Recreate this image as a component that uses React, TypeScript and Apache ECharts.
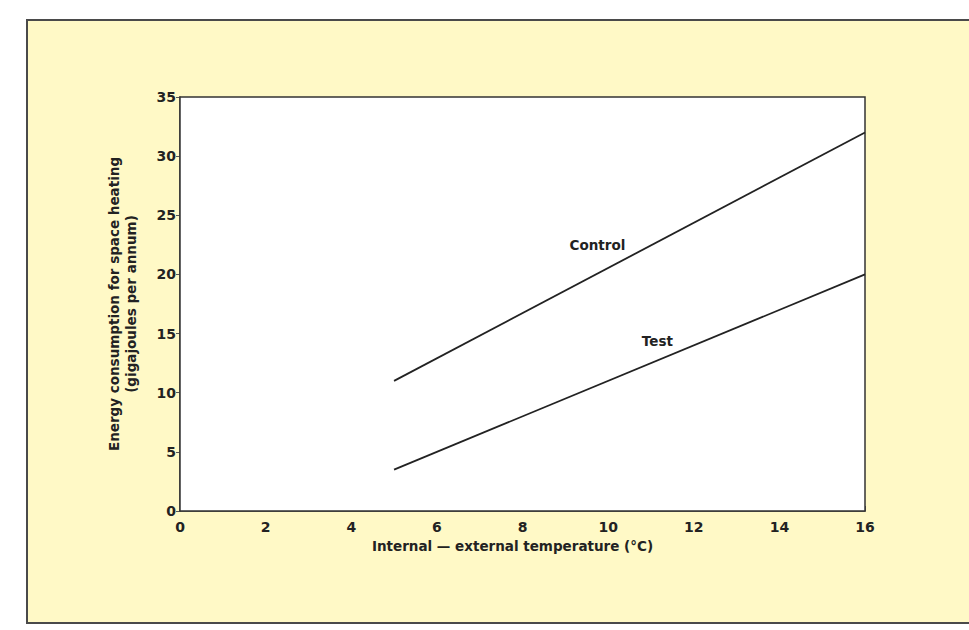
import React, { useEffect, useRef } from "react";
import * as echarts from "echarts";

const xTicks = [0, 2, 4, 6, 8, 10, 12, 14, 16];
const yTicks = [0, 5, 10, 15, 20, 25, 30, 35];
const controlData: [number, number][] = [[5, 11], [16, 32]];
const testData: [number, number][] = [[5, 3.5], [16, 20]];
const controlLabelAt: [number, number] = [9.75, 22.5];
const testLabelAt: [number, number] = [11.15, 14.4];
const xTitle = "Internal \u2014 external temperature (\u00B0C)";
const yTitle = "Energy consumption for space heating\n(gigajoules per annum)";

const FONT = "'DejaVu Sans', 'Liberation Sans', Arial, sans-serif";

export default function App() {
  const ref = useRef<HTMLDivElement>(null);
  useEffect(() => {
    if (!ref.current) return;
    const chart = echarts.init(ref.current, null, { renderer: "svg" });
    const lineStyle = { color: "#222", width: 1.8 };
    const mkLabel = (name: string, at: [number, number]) => ({
      symbol: "circle",
      symbolSize: 0,
      data: [
        {
          coord: at,
          label: {
            show: true,
            formatter: name,
            color: "#222",
            fontFamily: FONT,
            fontSize: 13.5,
            fontWeight: "bold",
          },
        },
      ],
    });
    chart.setOption({
      animation: false,
      backgroundColor: "#ffffff",
      textStyle: { fontFamily: FONT },
      graphic: [
        {
          type: "rect",
          z: -100,
          silent: true,
          shape: { x: 27, y: 20, width: 960, height: 603 },
          style: { fill: "#fff9c6", stroke: "#4a4a4a", lineWidth: 2 },
        },
      ],
      grid: {
        left: 180,
        top: 97,
        right: 104,
        bottom: 119,
        show: true,
        backgroundColor: "#ffffff",
        borderColor: "#333",
        borderWidth: 1.5,
        z: 1,
      },
      xAxis: {
        type: "value",
        min: xTicks[0],
        max: xTicks[xTicks.length - 1],
        interval: 2,
        name: xTitle,
        nameLocation: "middle",
        nameGap: 26,
        nameTextStyle: {
          color: "#222",
          fontSize: 13.5,
          fontFamily: FONT,
          fontWeight: "bold",
          padding: [0, 20, 0, 0],
        },
        axisLine: { show: true, lineStyle: { color: "#333", width: 1.5 } },
        axisTick: { show: true, inside: true, length: 5, lineStyle: { color: "#555" } },
        axisLabel: { color: "#222", fontSize: 14, fontFamily: FONT, fontWeight: "bold", margin: 9 },
        splitLine: { show: false },
      },
      yAxis: {
        type: "value",
        min: yTicks[0],
        max: yTicks[yTicks.length - 1],
        interval: 5,
        name: yTitle,
        nameLocation: "middle",
        nameGap: 41,
        nameRotate: 90,
        nameTextStyle: { color: "#222", fontSize: 13.5, fontFamily: FONT, fontWeight: "bold", lineHeight: 17 },
        axisLine: { show: true, lineStyle: { color: "#333", width: 1.5 } },
        axisTick: { show: true, inside: false, length: 4, lineStyle: { color: "#555" } },
        axisLabel: { color: "#222", fontSize: 14, fontFamily: FONT, fontWeight: "bold", margin: 4 },
        splitLine: { show: false },
      },
      series: [
        {
          type: "line",
          name: "Control",
          data: controlData,
          showSymbol: false,
          lineStyle,
          itemStyle: { color: "#222" },
          markPoint: mkLabel("Control", controlLabelAt),
        },
        {
          type: "line",
          name: "Test",
          data: testData,
          showSymbol: false,
          lineStyle,
          itemStyle: { color: "#222" },
          markPoint: mkLabel("Test", testLabelAt),
        },
      ],
    });
    return () => chart.dispose();
  }, []);
  return (
    <div
      ref={ref}
      style={{ position: "fixed", left: 0, top: 0, width: 969, height: 630 }}
    />
  );
}
